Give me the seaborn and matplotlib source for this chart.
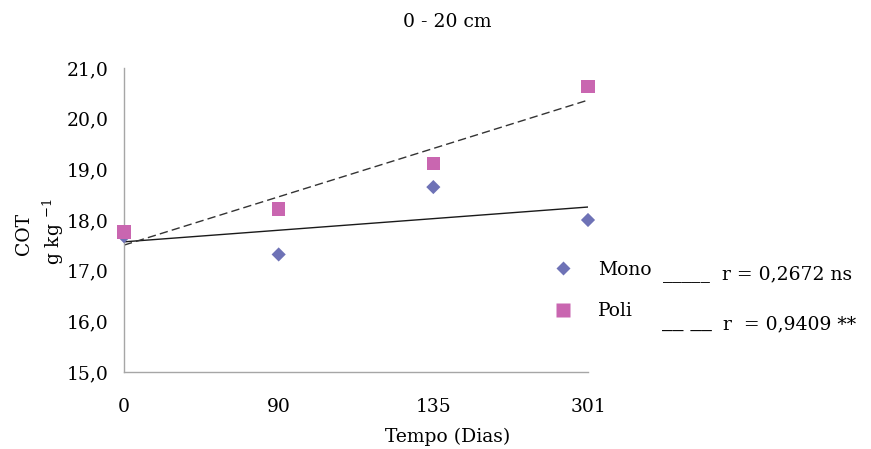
import numpy as np
import pandas as pd
import matplotlib
matplotlib.use("Agg")
import matplotlib.pyplot as plt
from matplotlib.lines import Line2D
import seaborn as sns

# Sampling days (categorical axis) and soil organic carbon, 0-20 cm layer
dias = ["0", "90", "135", "301"]
mono = [17.68, 17.32, 18.65, 18.00]
poli = [17.76, 18.22, 19.12, 20.64]
y_ticks = [15.0, 16.0, 17.0, 18.0, 19.0, 20.0, 21.0]
r_mono = "r = 0,2672 ns"
r_poli = "r  = 0,9409 **"

cor_mono = "#6e72b6"
cor_poli = "#c966b0"

sns.set_theme(style="white")
plt.rcParams["font.family"] = ["DejaVu Serif"]
plt.rcParams["mathtext.fontset"] = "dejavuserif"
plt.rcParams["text.color"] = "black"
fs = 13.5

W, H = 871, 449
fig = plt.figure(figsize=(W / 100, H / 100), dpi=100)
ax = fig.add_axes([124 / W, 1 - 372 / H, 464 / W, 304 / H])

pos = np.arange(len(dias))
df = pd.DataFrame({
    "pos": np.concatenate([pos, pos]),
    "cot": mono + poli,
    "sistema": ["Mono"] * len(mono) + ["Poli"] * len(poli),
})

# linear trend lines
sns.regplot(x=pos, y=np.array(mono), scatter=False, ci=None, truncate=True,
            ax=ax, line_kws=dict(color="#1a1a1a", lw=1.0, zorder=2))
sns.regplot(x=pos, y=np.array(poli), scatter=False, ci=None, truncate=True,
            ax=ax, line_kws=dict(color="#333333", lw=1.0, ls=(0, (6, 3)), zorder=2))

s_mono, s_poli = 52, 92
sns.scatterplot(data=df[df.sistema == "Mono"], x="pos", y="cot", marker="D",
                color=cor_mono, s=s_mono, edgecolor="none", ax=ax, clip_on=False,
                zorder=3, legend=False)
sns.scatterplot(data=df[df.sistema == "Poli"], x="pos", y="cot", marker="s",
                color=cor_poli, s=s_poli, edgecolor="none", ax=ax, clip_on=False,
                zorder=4, legend=False)

ax.set_xlim(0, 3)
ax.set_ylim(15, 21)
ax.set_xticks(pos)
ax.set_xticklabels(dias)
ax.set_yticks(y_ticks)
ax.set_yticklabels([f"{v:.1f}".replace(".", ",") for v in y_ticks])
ax.set_xlabel("")
ax.set_ylabel("")
for side in ["top", "right"]:
    ax.spines[side].set_visible(False)
for side in ["left", "bottom"]:
    ax.spines[side].set_color("#a6a6a6")
    ax.spines[side].set_linewidth(1.0)
ax.tick_params(axis="both", direction="out", length=4.5, width=1.0,
               color="#a6a6a6", labelsize=fs, labelcolor="black")
ax.tick_params(axis="y", pad=6.5)
ax.tick_params(axis="x", pad=14)
ax.patch.set_alpha(0)

# legend with the two series markers
handles = [
    Line2D([], [], ls="none", marker="D", ms=np.sqrt(s_mono), color=cor_mono, mec="none"),
    Line2D([], [], ls="none", marker="s", ms=np.sqrt(s_poli), color=cor_poli, mec="none"),
]
ax.legend(handles, ["Mono", "Poli"], loc="upper left",
          bbox_to_anchor=(553.6 / W, 1 - 261 / H), bbox_transform=fig.transFigure,
          frameon=False, fontsize=fs, handlelength=1.0, handletextpad=1.37,
          borderpad=0, labelspacing=1.25, borderaxespad=0)

# correlation notes next to the legend
fig.text(663 / W, 1 - 278 / H, "_____", fontsize=fs, ha="left", va="baseline")
fig.text(722 / W, 1 - 279 / H, r_mono, fontsize=fs, ha="left", va="baseline")
fig.text(662 / W, 1 - 326 / H, "__ __", fontsize=fs + 2, ha="left", va="baseline")
fig.text(723 / W, 1 - 329 / H, r_poli, fontsize=fs, ha="left", va="baseline")

# titles
fig.text(447 / W, 1 - 22 / H, "0 - 20 cm", fontsize=fs, ha="center", va="center")
fig.text(448 / W, 1 - 437 / H, "Tempo (Dias)", fontsize=fs, ha="center", va="center")
fig.text(24 / W, 1 - 234 / H, "COT", fontsize=fs, rotation=90, ha="center", va="center")
fig.text(53 / W, 1 - 232 / H, r"g kg $^{-1}$", fontsize=fs, rotation=90,
         ha="center", va="center")

fig.savefig("out.png", dpi=100, facecolor="white")
